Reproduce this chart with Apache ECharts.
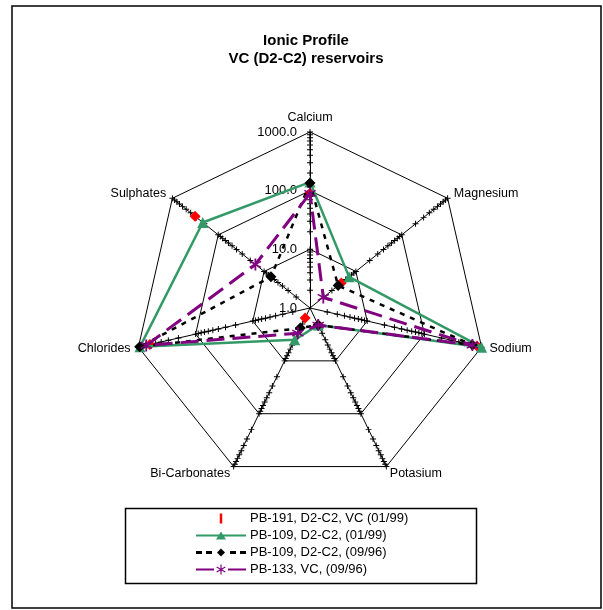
<!DOCTYPE html>
<html>
<head>
<meta charset="utf-8">
<script src="https://cdn.jsdelivr.net/npm/echarts@6/dist/echarts.min.js"></script>
<style>
html,body{margin:0;padding:0;background:#fff;}
#chart{width:603px;height:610px;}
</style>
</head>
<body>
<div id="chart"></div>
<script>
// Indicators in clockwise order starting from the top
var categories = ['Calcium', 'Magnesium', 'Sodium', 'Potasium', 'Bi-Carbonates', 'Chlorides', 'Sulphates'];
var seriesNames = ['PB-191, D2-C2, VC (01/99)', 'PB-109, D2-C2, (01/99)', 'PB-109, D2-C2, (09/96)', 'PB-133, VC, (09/96)'];
var pb191 = [90, 4.8, 830, 2.1, 1.55, 630, 320];
var pb109a = [140, 7.1, 1000, 2.1, 4.0, 940, 218];
var pb109b = [135, 4.1, 690, 2.1, 2.4, 950, 7.1];
var pb133 = [90, 1.95, 690, 2.1, 3.0, 730, 15.5];
var tickLabels = ['1.0', '10.0', '100.0', '1000.0'];
var minorTicks = [2, 3, 4, 5, 6, 7, 8, 9, 20, 30, 40, 50, 60, 70, 80, 90, 200, 300, 400, 500, 600, 700, 800, 900, 10, 100, 1000];

// ECharts lays radar indicators counter-clockwise; reorder to get a clockwise layout
function ccw(arr) { return [arr[0]].concat(arr.slice(1).reverse()); }
function logs(arr) { return ccw(arr).map(function (v) { return Math.log10(v); }); }

var FONT = 'Liberation Sans, Arial, sans-serif';
var ind = ccw(categories).map(function (n, i) {
  var o = { name: n, min: 0, max: 3 };
  if (i !== 0) o.axisLabel = { show: false };
  return o;
});

var asterisk = 'path://M-0.14,-1L0.14,-1L0.14,1L-0.14,1ZM-0.926,-0.396L-0.806,-0.604L0.926,0.396L0.806,0.604ZM-0.806,0.604L-0.926,0.396L0.806,-0.604L0.926,-0.396Z';
var plus = 'path://M-1,-0.16L1,-0.16L1,0.16L-1,0.16ZM-0.16,-1L0.16,-1L0.16,1L-0.16,1Z';

var icons = [
  'path://M24,1L26,1L26,9L24,9Z',
  'path://M0,4L50,4L50,6L0,6ZM25,1L30,9L20,9Z',
  'path://M0,3.5L6,3.5L6,6.5L0,6.5ZM10,3.5L16,3.5L16,6.5L10,6.5ZM25,1L29,5L25,9L21,5ZM34,3.5L40,3.5L40,6.5L34,6.5ZM44,3.5L50,3.5L50,6.5L44,6.5Z',
  'path://M0,4L18,4L18,6L0,6ZM32,4L50,4L50,6L32,6ZM24.4,0L25.6,0L25.6,10L24.4,10ZM20.37,3.02L20.97,1.98L29.63,6.98L29.03,8.02ZM20.97,8.02L20.37,6.98L29.03,1.98L29.63,3.02Z'
];

var chart = echarts.init(document.getElementById('chart'), null, { renderer: 'canvas' });
chart.setOption({
  animation: false,
  backgroundColor: '#fff',
  title: {
    text: 'Ionic Profile\nVC (D2-C2) reservoirs',
    left: 306, top: 32, padding: 0, textAlign: 'center',
    textStyle: { fontFamily: FONT, fontSize: 15, fontWeight: 'bold', color: '#000', lineHeight: 18 }
  },
  graphic: [
    { type: 'rect', shape: { x: 12, y: 6, width: 589, height: 602 }, style: { fill: 'none', stroke: '#000', lineWidth: 1.5 }, z: 0 },
    { type: 'rect', shape: { x: 125.5, y: 508.5, width: 351, height: 75 }, style: { fill: 'none', stroke: '#000', lineWidth: 1.5 }, z: 0 }
  ],
  legend: {
    orient: 'vertical', left: 196, top: 512, padding: 0,
    itemWidth: 50, itemHeight: 10, itemGap: 4,
    symbolKeepAspect: true,
    itemStyle: { borderWidth: 0 },
    textStyle: { fontFamily: FONT, fontSize: 13, color: '#000', lineHeight: 13, padding: [0, 0, 0, -1] },
    data: seriesNames.map(function (n, i) { return { name: n, icon: icons[i] }; })
  },
  radar: {
    center: [310, 308],
    radius: 176,
    startAngle: 90,
    shape: 'polygon',
    splitNumber: 3,
    indicator: ind,
    axisName: { color: '#000', fontFamily: FONT, fontSize: 12.5 },
    nameGap: 8,
    axisLine: { lineStyle: { color: '#000', width: 1 } },
    splitLine: { lineStyle: { color: '#000', width: 1 } },
    splitArea: { show: false },
    axisTick: { show: false },
    axisLabel: {
      show: true, color: '#000', fontFamily: FONT, fontSize: 13, margin: 13,
      formatter: function (v) { return tickLabels[Math.round(v)]; }
    }
  },
  series: [
    {
      type: 'radar', silent: true, z: 1,
      symbol: plus, symbolSize: 6,
      itemStyle: { color: '#000', borderWidth: 0 },
      lineStyle: { width: 0, opacity: 0 },
      data: minorTicks.map(function (t) { return { name: 't' + t, value: categories.map(function () { return Math.log10(t); }) }; })
    },
    {
      type: 'radar', name: seriesNames[0], z: 2,
      symbol: 'diamond', symbolSize: 11,
      itemStyle: { color: '#ff0000', borderWidth: 0 },
      lineStyle: { width: 0, opacity: 0 },
      data: [{ name: seriesNames[0], value: logs(pb191) }]
    },
    {
      type: 'radar', name: seriesNames[1], z: 3,
      symbol: 'triangle', symbolSize: 11,
      itemStyle: { color: '#339966', borderWidth: 0 },
      lineStyle: { width: 2.5, color: '#339966' },
      data: [{ name: seriesNames[1], value: logs(pb109a) }]
    },
    {
      type: 'radar', name: seriesNames[2], z: 4,
      symbol: 'diamond', symbolSize: 11,
      itemStyle: { color: '#000', borderWidth: 0 },
      lineStyle: { width: 2.5, color: '#000', type: [5, 6] },
      data: [{ name: seriesNames[2], value: logs(pb109b) }]
    },
    {
      type: 'radar', name: seriesNames[3], z: 5,
      symbol: asterisk, symbolSize: 12,
      itemStyle: { color: '#800080', borderWidth: 0 },
      lineStyle: { width: 3, color: '#800080', type: [18, 8] },
      data: [{ name: seriesNames[3], value: logs(pb133) }]
    }
  ]
});
</script>
</body>
</html>
